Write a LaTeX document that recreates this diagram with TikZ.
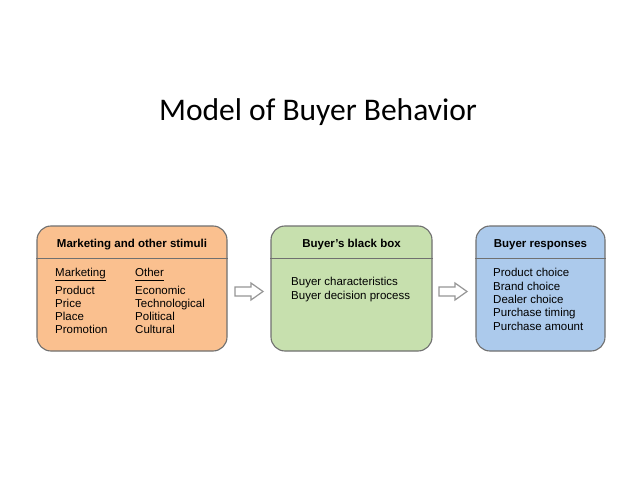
\documentclass[tikz,border=0pt]{standalone}
\usepackage{fontspec}
\setmainfont{Liberation Sans}
\newfontfamily\titlefont{Carlito}
\definecolor{boxorange}{RGB}{250,192,143}
\definecolor{boxgreen}{RGB}{199,224,174}
\definecolor{boxblue}{RGB}{172,202,236}
\definecolor{edgegray}{RGB}{112,112,112}
\definecolor{arrowgray}{RGB}{150,150,150}
\begin{document}
\begin{tikzpicture}[x=1pt,y=-1pt,
  panel/.style={draw=edgegray, line width=1.1pt, rounded corners=14pt, inner sep=0pt},
  sepline/.style={draw=edgegray, line width=0.7pt},
  head/.style={font=\fontsize{11.5}{13}\selectfont\bfseries, anchor=base, inner sep=0pt},
  body/.style={font=\fontsize{11.5}{13}\selectfont, anchor=base west, inner sep=0pt},
  uline/.style={line width=0.7pt},
  blockarrow/.style={draw=arrowgray, line width=1.2pt, fill=white, line join=miter}
]
\useasboundingbox (0,0) rectangle (638,479);
\fill[white] (0,0) rectangle (638,479);

\node[font=\titlefont\fontsize{31.5}{36}\selectfont, anchor=base, inner sep=0pt] (title) at (318,120) {Model of Buyer Behavior};

% panels
\node[panel, fill=boxorange, minimum width=190pt, minimum height=125pt] (b1) at (132,288.5) {};
\node[panel, fill=boxgreen, minimum width=161pt, minimum height=125pt] (b2) at (351.5,288.5) {};
\node[panel, fill=boxblue, minimum width=129pt, minimum height=125pt] (b3) at (540.5,288.5) {};

\draw[sepline] (b1.west |- 0,258) -- (b1.east |- 0,258);
\draw[sepline] (b2.west |- 0,258) -- (b2.east |- 0,258);
\draw[sepline] (b3.west |- 0,258) -- (b3.east |- 0,258);

% headers
\node[head] (h1) at (132,247) {Marketing and other stimuli};
\node[head] (h2) at (351.5,247) {Buyer’s black box};
\node[head] (h3) at (540.5,247) {Buyer responses};

% panel 1 body
\node[body] (m0) at (55,276.5) {Marketing};
\draw[uline] ([yshift=-3.5pt]m0.base west) -- ([yshift=-3.5pt]m0.base east);
\node[body] (m1) at (55,294) {Product};
\node[body] (m2) at (55,307) {Price};
\node[body] (m3) at (55,320.2) {Place};
\node[body] (m4) at (55,333.5) {Promotion};
\node[body] (o0) at (135,276.5) {Other};
\draw[uline] ([yshift=-3.5pt]o0.base west) -- ([yshift=-3.5pt]o0.base east);
\node[body] (o1) at (135,294) {Economic};
\node[body] (o2) at (135,307) {Technological};
\node[body] (o3) at (135,320.2) {Political};
\node[body] (o4) at (135,333.5) {Cultural};

% panel 2 body
\node[body] (c1) at (291,285.7) {Buyer characteristics};
\node[body] (c2) at (291,299) {Buyer decision process};

% panel 3 body
\node[body] (r1) at (493,276.7) {Product choice};
\node[body] (r2) at (493,290) {Brand choice};
\node[body] (r3) at (493,303.3) {Dealer choice};
\node[body] (r4) at (493,316.6) {Purchase timing};
\node[body] (r5) at (493,330) {Purchase amount};

% block arrows
\draw[blockarrow] (235,287) -- (251,287) -- (251,283) -- (263,291.5) -- (251,300) -- (251,296) -- (235,296) -- cycle;
\draw[blockarrow] (439,287) -- (455,287) -- (455,283) -- (467,291.5) -- (455,300) -- (455,296) -- (439,296) -- cycle;
\end{tikzpicture}
\end{document}
